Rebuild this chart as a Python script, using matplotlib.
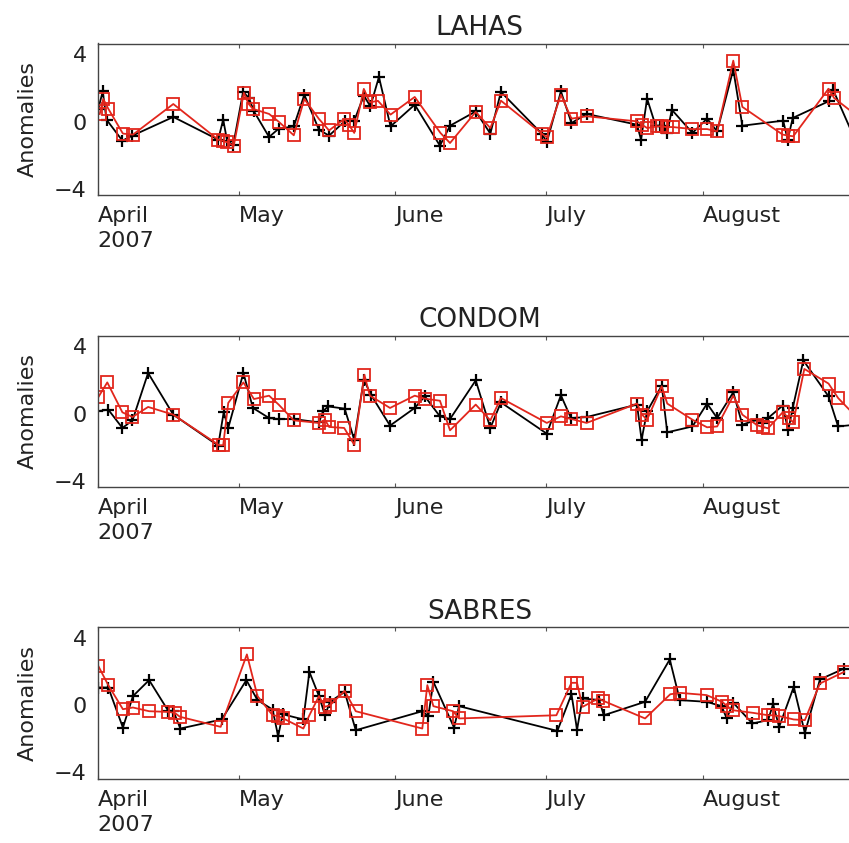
import numpy as np
import matplotlib
matplotlib.use("Agg")
import matplotlib.pyplot as plt

# ==========================================
# DATA  (x = day of year 2007, y = anomaly)
# ==========================================
LAHAS_OBS_DOY = [93.1, 94.0, 94.75, 97.9, 99.9, 108.0, 116.9, 117.9, 118.7, 119.9,
                 121.85, 123.0, 124.0, 127.0, 128.9, 131.9, 134.0, 136.9, 138.9, 142.0,
                 143.9, 145.8, 147.1, 148.8, 151.1, 155.9, 160.9, 162.9, 168.0, 170.9,
                 173.0, 181.1, 182.1, 184.9, 187.0, 190.0, 200.0, 200.8, 202.0, 203.7,
                 204.5, 205.3, 206.0, 206.9, 211.0, 213.9, 215.9, 219.1, 220.9, 229.0,
                 229.9, 230.9, 238.0, 238.9, 243.5]
LAHAS_OBS = [0.75, 1.8, 0.12, -1.13, -0.83, 0.28, -1.07, 0.12, -1.17, -1.37,
             1.77, 1.41, 0.61, -0.91, -0.42, -0.28, 1.6, -0.48, -0.83, 0.02,
             0.06, 1.55, 0.91, 2.66, -0.28, 1.01, -1.43, -0.24, 0.61, -0.71,
             1.77, -0.71, -1.23, 1.8, -0.08, 0.46, -0.18, -1.07, 1.37, -0.24,
             -0.24, -0.24, -0.67, 0.71, -0.67, 0.18, -0.58, 3.1, -0.24, 0.06,
             -1.07, 0.22, 1.21, 1.9, -1.23]

LAHAS_MOD_DOY = [93.4, 94.1, 95.1, 98.0, 100.0, 108.0, 116.9, 117.8, 118.7, 120.0,
                 122.0, 122.9, 123.8, 127.0, 128.9, 131.9, 134.0, 136.9, 138.9, 141.9,
                 142.9, 143.9, 145.8, 147.0, 148.6, 151.1, 155.9, 161.0, 162.9, 168.0,
                 170.9, 173.0, 181.1, 182.1, 184.9, 187.0, 190.0, 200.0, 201.0, 202.0,
                 203.9, 204.9, 205.9, 207.1, 211.0, 213.9, 215.9, 219.1, 220.9, 228.9,
                 230.0, 231.0, 238.0, 239.1, 243.5]
LAHAS_MOD = [0.45, 1.35, 0.77, -0.71, -0.77, 1.05, -1.07, -1.13, -1.23, -1.43,
             1.71, 1.07, 0.76, 0.46, 0.0, -0.81, 1.35, 0.16, -0.52, 0.16,
             -0.22, -0.67, 1.95, 1.15, 1.24, 0.42, 1.47, -0.67, -1.27, 0.58,
             -0.38, 1.25, -0.71, -0.93, 1.6, 0.18, 0.32, 0.02, -0.18, -0.38,
             -0.28, -0.28, -0.32, -0.32, -0.44, -0.44, -0.58, 3.63, 0.88, -0.77,
             -0.83, -0.87, 1.96, 1.41, 0.38]

CONDOM_OBS_DOY = [92.9, 95.1, 97.9, 99.9, 103.0, 108.0, 116.9, 118.0, 118.9, 121.9,
                  123.8, 127.0, 128.9, 131.9, 136.9, 137.7, 138.7, 142.0, 143.9, 145.8,
                  147.2, 151.0, 155.9, 157.9, 160.9, 162.9, 168.0, 170.9, 173.0, 182.1,
                  184.9, 186.9, 190.0, 200.0, 200.9, 202.0, 204.9, 206.0, 211.0, 213.9,
                  215.9, 219.1, 220.9, 223.9, 225.0, 226.0, 228.9, 230.0, 230.9, 233.0,
                  238.0, 239.9, 243.5]
CONDOM_OBS = [0.14, 0.24, -0.85, -0.4, 2.42, -0.06, -1.9, 0.08, -0.85, 2.42,
              0.34, -0.26, -0.32, -0.32, -0.52, 0.14, 0.43, 0.3, -1.55, 2.02,
              1.13, -0.71, 0.34, 1.03, -0.16, -0.32, 1.98, -0.85, 0.67, -1.19,
              1.09, -0.26, -0.2, 0.54, -1.55, 0.14, 1.67, -1.11, -0.76, 0.6,
              -0.26, 1.27, -0.65, -0.36, -0.55, -0.26, 0.48, -0.99, 0.34, 3.17,
              1.03, -0.76, -0.65]

CONDOM_MOD_DOY = [93.1, 94.9, 97.9, 99.9, 103.0, 108.0, 117.1, 117.9, 118.9, 121.9,
                  124.0, 127.0, 128.9, 131.9, 136.9, 138.1, 138.9, 141.9, 143.9, 145.9,
                  147.0, 151.0, 155.9, 157.9, 160.9, 162.9, 168.0, 170.9, 173.0, 182.1,
                  184.9, 187.0, 190.0, 200.0, 201.0, 202.0, 204.9, 206.0, 211.0, 213.9,
                  215.9, 219.1, 220.9, 223.9, 225.0, 226.0, 228.9, 230.1, 231.0, 233.2,
                  238.0, 239.9, 243.5]
CONDOM_MOD = [0.97, 1.86, 0.08, -0.2, 0.4, -0.06, -1.88, -1.88, 0.64, 1.86,
              0.87, 1.07, 0.54, -0.4, -0.55, -0.36, -0.79, -0.85, -1.85, 2.32,
              1.07, 0.34, 1.07, 0.89, 0.77, -0.99, 0.54, -0.4, 0.93, -0.55,
              -0.16, -0.32, -0.55, 0.6, -0.06, -0.36, 1.63, 0.6, -0.36, -0.81,
              -0.76, 1.07, -0.06, -0.7, -0.79, -0.87, 0.08, -0.26, -0.52, 2.66,
              1.79, 0.93, -0.19]

SABRES_OBS_DOY = [93.1, 95.1, 98.0, 100.0, 103.2, 107.0, 108.0, 109.4, 117.6, 122.5,
                  124.7, 127.7, 128.8, 129.7, 133.8, 135.0, 136.9, 138.1, 139.1, 142.0,
                  144.2, 157.4, 158.6, 159.6, 163.7, 164.7, 184.2, 187.0, 188.1, 189.2,
                  192.5, 193.4, 201.6, 206.5, 208.5, 213.8, 216.8, 217.8, 219.1, 222.9,
                  226.0, 227.0, 228.2, 231.1, 233.3, 236.3, 241.1]
SABRES_OBS = [1.05, 1.05, -1.33, 0.54, 1.49, -0.34, -0.34, -1.39, -0.85, 1.49,
              0.3, -0.26, -1.85, -0.54, -0.85, 1.98, 0.54, -0.6, 0.2, 0.79,
              -1.49, -0.36, -0.65, 1.39, -1.33, -0.06, -1.53, 0.65, -1.45, 0.4,
              0.3, -0.6, 0.2, 2.72, 0.3, 0.2, -0.06, -0.79, 0.14, -1.09,
              -0.89, 0.06, -1.29, 1.09, -1.65, 1.53, 2.18]

SABRES_MOD_DOY = [93.1, 95.1, 98.0, 100.0, 103.2, 107.0, 108.3, 109.3, 117.4, 122.6,
                  124.7, 127.7, 128.8, 129.8, 133.8, 135.0, 136.9, 138.1, 139.1, 142.0,
                  144.2, 157.4, 158.4, 159.6, 163.5, 164.7, 184.0, 187.0, 188.1, 189.2,
                  192.3, 193.3, 201.6, 206.6, 208.6, 213.8, 216.9, 217.9, 219.0, 223.1,
                  226.0, 227.0, 228.2, 231.1, 233.3, 236.3, 241.1]
SABRES_MOD = [2.34, 1.19, -0.24, -0.14, -0.36, -0.4, -0.46, -0.69, -1.29, 3.02,
              0.54, -0.6, -0.65, -0.79, -1.39, -0.6, 0.54, -0.1, 0.0, 0.85,
              -0.36, -1.39, 1.19, -0.06, -0.36, -0.79, -0.6, 1.33, 1.33, -0.1,
              0.4, 0.26, -0.79, 0.65, 0.73, 0.6, 0.2, -0.06, -0.3, -0.46,
              -0.6, -0.6, -0.65, -0.85, -0.89, 1.29, 1.98]

STATIONS = ["LAHAS", "CONDOM", "SABRES"]
MONTH_TICKS = [93.0, 121.0, 152.0, 182.0, 213.0]
MONTH_LABELS = ["April\n2007", "May", "June", "July", "August"]
Y_TICKS = [-4, 0, 4]
Y_TICK_LABELS = ["\u22124", "0", "4"]

# ==========================================
# PLOT
# ==========================================
plt.rcParams["font.family"] = "DejaVu Sans"
RED = "#e2261c"

fig = plt.figure(figsize=(8.49, 8.43), dpi=100)
W, H = 849.0, 843.0
ax_left, ax_right = 97.7, 861.3
panel_tops = [43.5, 335.5, 627.0]
panel_h = 151.8

series = [
    (LAHAS_OBS_DOY, LAHAS_OBS, LAHAS_MOD_DOY, LAHAS_MOD),
    (CONDOM_OBS_DOY, CONDOM_OBS, CONDOM_MOD_DOY, CONDOM_MOD),
    (SABRES_OBS_DOY, SABRES_OBS, SABRES_MOD_DOY, SABRES_MOD),
]

for name, top, (obs_x, obs_y, mod_x, mod_y) in zip(STATIONS, panel_tops, series):
    ax = fig.add_axes([ax_left / W, 1 - (top + panel_h) / H,
                       (ax_right - ax_left) / W, panel_h / H])
    ax.plot(obs_x, obs_y, color="black", lw=1.3, marker="+",
            markersize=9, markeredgewidth=1.6, clip_on=True)
    ax.plot(mod_x, mod_y, color=RED, lw=1.3, marker="s", markersize=8,
            markerfacecolor="none", markeredgecolor=RED, markeredgewidth=1.3)

    ax.set_xlim(93.0, 244.5)
    ax.set_ylim(-4.38, 4.65)
    ax.set_title(name, fontsize=19, pad=6, color="#222222")

    ax.set_xticks(MONTH_TICKS)
    ax.set_xticklabels(MONTH_LABELS, fontsize=16, ha="left",
                       linespacing=1.3, color="#222222")
    ax.tick_params(axis="x", direction="in", length=3, top=True,
                   pad=8, color="#555555")
    ax.set_yticks(Y_TICKS)
    ax.set_yticklabels(Y_TICK_LABELS, fontsize=16, color="#222222")
    ax.tick_params(axis="y", length=0, pad=8)

    ax.set_ylabel("Anomalies", fontsize=16, color="#222222")
    ax.yaxis.set_label_coords(-0.078, 0.5)

    ax.spines["right"].set_visible(False)
    for side in ("left", "top", "bottom"):
        ax.spines[side].set_color("#444444")
        ax.spines[side].set_linewidth(1.0)

fig.savefig("out.png", dpi=100, facecolor="white")
